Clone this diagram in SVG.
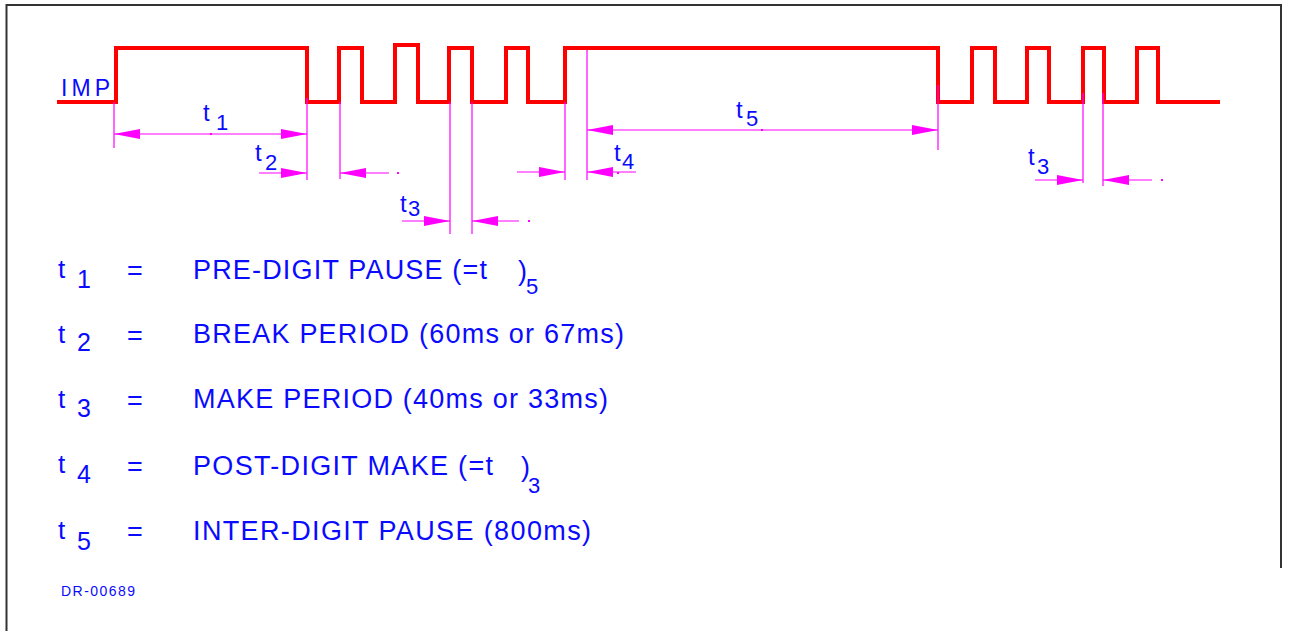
<svg xmlns="http://www.w3.org/2000/svg" width="1289" height="631" viewBox="0 0 1289 631">
<style>
.frame{fill:none;stroke:#333;stroke-width:2}
.wave{fill:none;stroke:#ff0000;stroke-width:4;stroke-linejoin:miter;stroke-linecap:butt}
.ext{fill:none;stroke:#ff00ff;stroke-width:1.2}
.dim{fill:none;stroke:#ff00ff;stroke-width:1.2;marker-end:url(#ah)}
.dim2{fill:none;stroke:#ff00ff;stroke-width:1.2;marker-end:url(#ah);marker-start:url(#ahs)}
.dot{fill:#ff00ff}
text{font-family:"Liberation Sans",Arial,sans-serif;fill:#0a0aff}
.lbl{font-size:24px}
.sub{font-size:22px}
.leg{font-size:27px}
.legt{font-size:26px}
.legsub{font-size:25px}
</style>
<defs>
<marker id="ah" markerUnits="userSpaceOnUse" markerWidth="26" markerHeight="10" refX="26" refY="5" orient="auto" viewBox="0 0 26 10"><path d="M0,0 L26,5 L0,10 z" fill="#ff00ff"/></marker>
<marker id="ahs" markerUnits="userSpaceOnUse" markerWidth="26" markerHeight="10" refX="26" refY="5" orient="auto-start-reverse" viewBox="0 0 26 10"><path d="M0,0 L26,5 L0,10 z" fill="#ff00ff"/></marker>
</defs>
<g id="frame">
<path class="frame" d="M6.5,631 V5 H1281 V568"/>
</g>
<g id="signal">
<path class="wave" d="M57,102 H116 V48 H307 V102 H339 V48 H362 V102 H395 V45 H418 V102 H449 V48 H472 V102 H506 V48 H528 V102 H565 V48 H938 V102 H972 V48 H995 V102 H1027 V48 H1049 V102 H1083 V48 H1104 V102 H1137 V48 H1158 V102 H1220"/>
<text id="imp" x="61" y="96" font-size="23" textLength="49" lengthAdjust="spacing">IMP</text>
</g>
<g id="connectors">
<path class="ext" d="M114,102 V148 M307,98 V180 M340,102 V179 M450,102 V234 M472,102 V234 M565,102 V180 M587,50 V180 M938,85 V150 M1083,93 V183 M1103,93 V186"/>
<path class="dim2" d="M114,134 H307"/>
<path class="dim" d="M259,173 H307"/>
<path class="dim" d="M389,173 H340"/>
<path class="dim" d="M402,221 H450"/>
<path class="dim" d="M519,221 H472"/>
<path class="dim" d="M517,172 H565"/>
<path class="dim" d="M636,172 H587"/>
<path class="dim2" d="M587,130 H938"/>
<path class="dim" d="M1035,180 H1083"/>
<path class="dim" d="M1152,180 H1103"/>
<rect class="dot" x="210" y="133" width="2" height="2"/>
<rect class="dot" x="397" y="172" width="2" height="2"/>
<rect class="dot" x="528" y="220" width="2" height="2"/>
<rect class="dot" x="617" y="172" width="2" height="2"/>
<rect class="dot" x="761" y="129" width="2" height="2"/>
<rect class="dot" x="1161" y="179" width="2" height="2"/>
</g>
<g id="dim-labels">
<text class="lbl" x="203" y="121">t</text><text class="sub" x="216" y="130">1</text>
<text class="lbl" x="255" y="161">t</text><text class="sub" x="265" y="170">2</text>
<text class="lbl" x="400" y="212">t</text><text class="sub" x="408" y="216">3</text>
<text class="lbl" x="614" y="161">t</text><text class="sub" x="622" y="169">4</text>
<text class="lbl" x="736" y="118">t</text><text class="sub" x="746" y="126">5</text>
<text class="lbl" x="1028" y="165">t</text><text class="sub" x="1037" y="174">3</text>
</g>
<g id="legend">
<text class="legt" x="58" y="278">t</text><text class="legsub" x="77" y="288">1</text>
<text class="leg" x="127" y="280">=</text>
<text class="leg" x="193" y="279" textLength="294" lengthAdjust="spacing">PRE-DIGIT PAUSE (=t</text>
<text class="leg" x="518" y="280">)</text><text class="sub" x="526" y="294">5</text>

<text class="legt" x="58" y="343">t</text><text class="legsub" x="77" y="351">2</text>
<text class="leg" x="127" y="345">=</text>
<text class="leg" x="193" y="343" textLength="431" lengthAdjust="spacing">BREAK PERIOD (60ms or 67ms)</text>

<text class="legt" x="58" y="408">t</text><text class="legsub" x="77" y="417">3</text>
<text class="leg" x="127" y="410">=</text>
<text class="leg" x="193" y="408" textLength="415" lengthAdjust="spacing">MAKE PERIOD (40ms or 33ms)</text>

<text class="legt" x="58" y="473">t</text><text class="legsub" x="77" y="483">4</text>
<text class="leg" x="127" y="476">=</text>
<text class="leg" x="193" y="475" textLength="300" lengthAdjust="spacing">POST-DIGIT MAKE (=t</text>
<text class="leg" x="521" y="476">)</text><text class="sub" x="528" y="493">3</text>

<text class="legt" x="58" y="539">t</text><text class="legsub" x="77" y="550">5</text>
<text class="leg" x="127" y="541">=</text>
<text class="leg" x="193" y="540" textLength="398" lengthAdjust="spacing">INTER-DIGIT PAUSE (800ms)</text>
</g>
<g id="drawing-number">
<text x="61" y="596" font-size="14" textLength="74" lengthAdjust="spacing">DR-00689</text>
</g>
</svg>
